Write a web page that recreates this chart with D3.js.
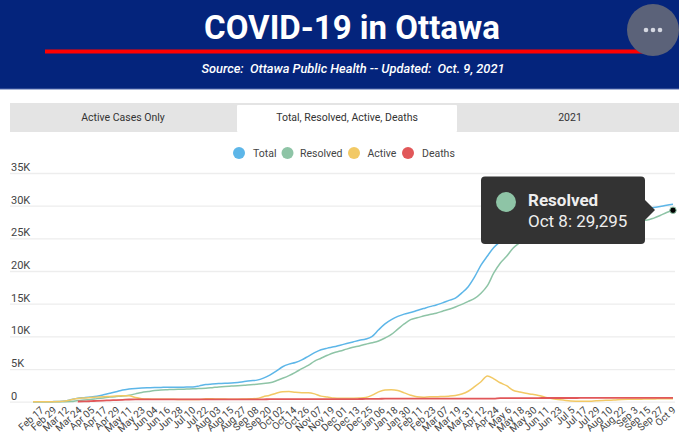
<!DOCTYPE html>
<html>
<head>
<meta charset="utf-8">
<script src="https://cdn.jsdelivr.net/npm/d3@7"></script>
<style>
  body { margin: 0; background: #fff; overflow: hidden; }
  text { font-family: Roboto, sans-serif; }
</style>
</head>
<body>
<svg id="chart" width="679" height="440"></svg>
<script>
// Tick labels, one every 12 days
const tickLabels = ["Feb 17","Feb 29","Mar 12","Mar 24","Apr 05","Apr 17","Apr 29","May 11","May 23","Jun 04","Jun 16","Jun 28","Jul 10","Jul 22","Aug 03","Aug 15","Aug 27","Sep 08","Sep 20","Oct 02","Oct 14","Oct 26","Nov 07","Nov 19","Dec 01","Dec 13","Dec 25","Jan 06","Jan 18","Jan 30","Feb 11","Feb 23","Mar 07","Mar 19","Mar 31","Apr 12","Apr 24","May 6","May 18","May 30","Jun 11","Jun 23","Jul 5","Jul 17","Jul 29","Aug 10","Aug 22","Sep 3","Sep 15","Sep 27","Oct 9"];
const yTicks = [0, 5000, 10000, 15000, 20000, 25000, 30000, 35000];

// Series values, one every 6 days
const total = [0,0,0,10,30,100,330,530,620,720,850,1050,1280,1520,1790,1930,2030,2100,2140,2170,2190,2210,2200,2220,2240,2260,2420,2620,2700,2770,2820,2860,2950,3080,3200,3300,3600,4080,4680,5350,5750,6000,6400,6950,7500,7950,8200,8400,8650,8900,9150,9400,9600,10000,11000,11900,12550,13050,13400,13650,13950,14250,14550,14800,15130,15500,15850,16650,17600,19100,20900,22300,23600,24500,25300,25950,26500,27000,27450,27800,28100,28350,28550,28700,28850,28950,29050,29120,29180,29240,29300,29350,29400,29450,29500,29550,29600,29720,29880,30050,30200];
const resolved = [0,0,0,0,0,0,20,170,250,350,470,580,700,790,870,1000,1200,1420,1560,1700,1800,1840,1870,1900,1940,1980,2010,2050,2150,2260,2340,2390,2440,2510,2600,2660,2780,2900,3200,3580,4000,4500,5050,5550,6200,6650,7100,7500,7750,8050,8320,8540,8800,9020,9300,9750,10300,11100,11900,12550,12850,13100,13350,13550,13850,14150,14500,14900,15350,15800,16600,17750,19700,21200,22250,23500,24300,25000,25550,26000,26350,26600,26800,26950,27050,27150,27230,27300,27380,27440,27500,27550,27600,27650,27700,27740,27800,28100,28500,28950,29295];
const active = [0,0,0,10,40,100,310,500,580,640,700,760,800,860,900,920,640,470,400,370,370,360,360,350,340,340,350,440,440,400,400,380,390,420,450,500,760,1000,1300,1530,1560,1440,1380,1370,1200,850,720,560,510,520,530,560,640,1000,1500,1800,1830,1700,1350,1000,750,680,760,750,800,850,950,1180,1600,2300,3060,3930,3500,2900,2450,1750,1500,1280,1130,960,700,500,350,230,120,80,60,80,150,200,210,270,340,370,360,370,420,400,470,440,460];
const deaths = [null,null,null,null,null,null,null,30,40,80,130,170,210,250,290,340,350,350,350,350,350,350,350,350,350,350,350,350,350,350,350,350,350,350,350,350,350,400,400,400,400,400,400,400,400,400,400,400,400,400,400,410,420,430,440,470,480,480,480,480,480,480,480,480,480,480,480,480,480,480,480,480,480,560,560,560,560,560,560,560,570,570,570,570,570,570,580,580,580,580,580,590,590,590,590,590,600,600,600,600,600];

const seriesNames = ["Total", "Resolved", "Active", "Deaths"];
const seriesValues = [total, resolved, active, deaths];
const colors = ["#5db6e8", "#8ec4a6", "#f2c965", "#e15759"];

const svg = d3.select("#chart");

// Header band
svg.append("rect").attr("width", 679).attr("height", 89).attr("fill", "#04247c");
svg.append("rect").attr("y", 88.5).attr("width", 679).attr("height", 1).attr("fill", "#5068ac");
svg.append("text")
    .attr("x", 352).attr("y", 38.5)
    .attr("text-anchor", "middle")
    .attr("fill", "#fff")
    .style("font-size", "33px")
    .style("font-weight", "700")
    .text("COVID-19 in Ottawa");
svg.append("rect").attr("x", 45).attr("y", 49.5).attr("width", 602).attr("height", 4).attr("fill", "#f00");
svg.append("text")
    .attr("x", 353).attr("y", 73)
    .attr("text-anchor", "middle")
    .attr("fill", "#fff")
    .style("font-size", "12.8px")
    .style("font-style", "italic")
    .style("font-weight", "500")
    .style("white-space", "pre")
    .text("Source:  Ottawa Public Health -- Updated:  Oct. 9, 2021");

// Menu button
svg.append("circle").attr("cx", 653).attr("cy", 30).attr("r", 26).attr("fill", "#5b6279");
svg.selectAll(".menuDot")
    .data([-7, 0, 7])
    .enter().append("circle")
    .attr("cx", d => 653 + d).attr("cy", 30).attr("r", 2.3).attr("fill", "#d5d8e2");

// Tabs
svg.append("rect").attr("x", 10).attr("y", 103).attr("width", 669).attr("height", 29).attr("fill", "#e4e4e4");
svg.append("rect").attr("x", 237).attr("y", 105).attr("width", 220).attr("height", 27).attr("rx", 1).attr("fill", "#fff");
const tabs = [["Active Cases Only", 123], ["Total, Resolved, Active, Deaths", 347], ["2021", 570]];
svg.selectAll(".tab")
    .data(tabs)
    .enter().append("text")
    .attr("class", "tab")
    .attr("x", d => d[1]).attr("y", 121)
    .attr("text-anchor", "middle")
    .attr("fill", "#333")
    .style("font-size", "10.5px")
    .text(d => d[0]);

// Legend
const legendDots = [239, 287.5, 354, 408];
const legendText = [253, 300, 367.5, 422];
seriesNames.forEach((name, i) => {
    svg.append("circle").attr("cx", legendDots[i]).attr("cy", 153).attr("r", 6).attr("fill", colors[i]);
    svg.append("text")
        .attr("x", legendText[i]).attr("y", 157)
        .attr("fill", "#444")
        .style("font-size", "10.5px")
        .text(name);
});

// Scales
const x = d3.scaleLinear().domain([0, total.length - 1]).range([33, 673]);
const y = d3.scaleLinear().domain([0, 35000]).range([401.7, 173]);

// Y axis, gridlines run the full width and labels sit on top of them
const yAxis = svg.append("g")
    .attr("transform", "translate(10,0)")
    .call(d3.axisRight(y).tickValues(yTicks).tickSize(665)
        .tickFormat(d => d === 0 ? "0" : d / 1000 + "K"));
yAxis.select(".domain").remove();
yAxis.selectAll("line").attr("stroke", "#ededed").attr("stroke-width", 1.3);
yAxis.selectAll("text")
    .attr("x", 1).attr("dy", "-2.6px")
    .attr("text-anchor", "start")
    .attr("fill", "#444")
    .style("font-size", "11px");

// X axis with rotated labels, they drift a little to the left of the ticks
const labelShift = d3.scaleLinear().domain([0, total.length - 1]).range([11, 3]);
const xAxis = svg.append("g")
    .attr("transform", "translate(0,402)")
    .call(d3.axisBottom(x).tickValues(d3.range(0, total.length, 2)).tickSize(0)
        .tickFormat(i => tickLabels[i / 2]));
xAxis.select(".domain").remove();
xAxis.selectAll("text")
    .attr("text-anchor", "end")
    .attr("dy", 0).attr("y", 0)
    .attr("transform", i => `translate(${labelShift(i)},9) rotate(-42)`)
    .attr("fill", "#444")
    .style("font-size", "10px");

// Lines
const line = d3.line()
    .defined(d => d !== null)
    .x((d, i) => x(i))
    .y(d => y(d))
    .curve(d3.curveMonotoneX);

seriesValues.forEach((values, i) => {
    svg.append("path")
        .datum(values)
        .attr("d", line)
        .attr("fill", "none")
        .attr("stroke", colors[i])
        .attr("stroke-width", i === 3 ? 1.8 : 1.5);
});

// Hovered point
const lastIndex = resolved.length - 1;
svg.append("circle")
    .attr("cx", x(lastIndex)).attr("cy", y(resolved[lastIndex]))
    .attr("r", 3.2)
    .attr("fill", "#000")
    .attr("stroke", "#8ec4a6")
    .attr("stroke-width", 1);

// Tooltip
svg.append("rect").attr("x", 481).attr("y", 176.5).attr("width", 164).attr("height", 67.5).attr("rx", 4).attr("fill", "#333");
svg.append("path").attr("d", "M644,199L655,210L644,221Z").attr("fill", "#333");
svg.append("circle").attr("cx", 506).attr("cy", 202).attr("r", 10).attr("fill", "#8ec4a6");
svg.append("text")
    .attr("x", 528).attr("y", 205.5)
    .attr("fill", "#eee")
    .style("font-size", "17px")
    .style("font-weight", "700")
    .text("Resolved");
svg.append("text")
    .attr("x", 528).attr("y", 227)
    .attr("fill", "#eee")
    .style("font-size", "17px")
    .text("Oct 8: 29,295");
</script>
</body>
</html>
